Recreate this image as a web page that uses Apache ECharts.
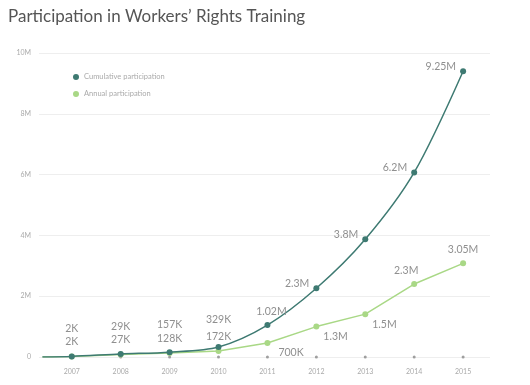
<!DOCTYPE html>
<html><head><meta charset="utf-8">
<script src="https://cdn.jsdelivr.net/npm/echarts@6/dist/echarts.min.js"></script>
<style>html,body{margin:0;padding:0;background:#fff}#c{width:530px;height:385px}</style>
</head><body><div id="c"></div>
<script>
// Data
const years = [2007, 2008, 2009, 2010, 2011, 2012, 2013, 2014, 2015];
const startYear = 2006.4; // line begins at zero left of first year
const cumulative = [20000, 100000, 160000, 330000, 1050000, 2260000, 3870000, 6070000, 9400000];
const annual = [20000, 80000, 130000, 200000, 460000, 1000000, 1410000, 2400000, 3080000];
const cumulativeLabels = ['2K', '29K', '157K', '329K', '1.02M', '2.3M', '3.8M', '6.2M', '9.25M'];
const annualLabels = ['2K', '27K', '128K', '172K', '700K', '1.3M', '1.5M', '2.3M', '3.05M'];
const yTicks = [0, 2000000, 4000000, 6000000, 8000000, 10000000];
const yTickLabels = ['0', '2M', '4M', '6M', '8M', '10M'];

const CUM = '#3e7a72', ANN = '#a9d886', LBL = '#8f8f8f';
const font = 'Lato, Open Sans, sans-serif';

// label placement per point (style, kept out of data arrays)
const cumPos = i => i < 4 ? {position: 'top', distance: 19} :
  i === 4 ? {position: 'top', distance: 5, offset: [4, 0]} :
  {position: 'left', distance: 4, offset: [0, -5]};
const annPos = i => i < 4 ? {position: 'top', distance: 6} :
  i <= 6 ? {position: 'right', distance: 4, offset: [i === 4 ? 4 : 0, 10]} :
  i === 7 ? {position: 'top', distance: 5, offset: [-8, 0]} :
  {position: 'top', distance: 5};

const cumData = [{value: [startYear, 0], symbolSize: 0, label: {show: false}}]
  .concat(years.map((y, i) => ({value: [y, cumulative[i]], label: Object.assign({show: true, formatter: cumulativeLabels[i]}, cumPos(i))})));
const annData = [{value: [startYear, 0], symbolSize: 0, label: {show: false}}]
  .concat(years.map((y, i) => ({value: [y, annual[i]], label: Object.assign({show: true, formatter: annualLabels[i]}, annPos(i))})));

const chart = echarts.init(document.getElementById('c'), null, {renderer: 'canvas'});
chart.setOption({
  animation: false,
  backgroundColor: '#fff',
  title: {text: 'Participation in Workers\u2019 Rights Training', left: 3, top: 3,
    textStyle: {fontFamily: font, fontSize: 17, fontWeight: 'normal', color: '#555'}},
  legend: {left: 68, top: 68, orient: 'vertical', itemWidth: 6, itemHeight: 6, itemGap: 9, icon: 'circle',
    textStyle: {fontFamily: font, fontSize: 7.5, color: '#aaa'},
    data: ['Cumulative participation', 'Annual participation']},
  grid: {left: 39, right: 40, top: 53, bottom: 28, containLabel: false},
  xAxis: {type: 'value', min: 2006.33, max: 2015.55,
    axisLine: {show: false}, axisTick: {show: false}, splitLine: {show: false},
    axisLabel: {customValues: years, formatter: v => String(v), fontFamily: font, fontSize: 7, color: '#aaa', margin: 11}},
  yAxis: {type: 'value', min: 0, max: 10000000, interval: 2000000,
    axisLine: {show: false}, axisTick: {show: false},
    splitLine: {lineStyle: {color: '#eeeeee', width: 1}},
    axisLabel: {formatter: v => yTickLabels[yTicks.indexOf(v)], fontFamily: font, fontSize: 7, color: '#aaa', margin: 8}},
  series: [
    {name: 'Annual participation', type: 'line', data: annData, symbol: 'circle', symbolSize: 6,
      lineStyle: {color: ANN, width: 1.5}, itemStyle: {color: ANN}, z: 3,
      label: {color: LBL, fontFamily: font, fontSize: 10.5}},
    {name: 'Cumulative participation', type: 'line', data: cumData, symbol: 'circle', symbolSize: 6, smooth: 0.3,
      lineStyle: {color: CUM, width: 1.5}, itemStyle: {color: CUM}, z: 4,
      label: {color: LBL, fontFamily: font, fontSize: 10.5}},
    {name: 'ticks', type: 'scatter', data: years.map(y => [y, 0]), symbolSize: 3,
      itemStyle: {color: '#888'}, z: 2, silent: true}
  ]
});
</script></body></html>
